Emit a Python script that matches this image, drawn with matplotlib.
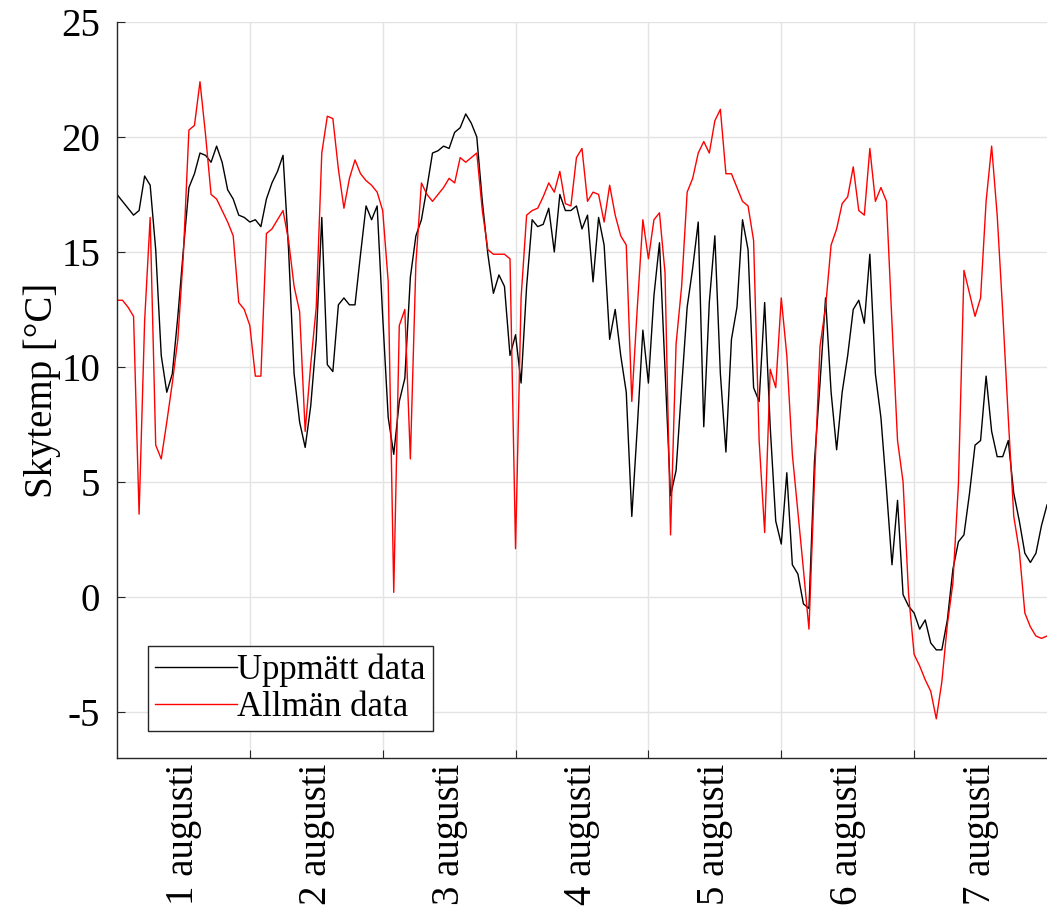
"""
Skytemp: uppmätt data mot allmän data, 1-7 augusti (timvärden).
"""
import matplotlib
matplotlib.use("Agg")
import matplotlib.pyplot as plt
import numpy as np

# Hours since 1 augusti 00:00
hours = np.arange(0, 169)

uppmatt = [
    17.5, 17.2, 16.9, 16.6, 16.8, 18.3, 17.9, 15.1, 10.5, 8.9, 9.7, 12.2,
    15.1, 17.8, 18.4, 19.3, 19.2, 18.9, 19.6, 18.9, 17.7, 17.3, 16.6, 16.5,
    16.3, 16.4, 16.1, 17.3, 18.0, 18.5, 19.2, 15.1, 9.7, 7.6, 6.5, 8.3,
    11.2, 16.5, 10.1, 9.8, 12.7, 13.0, 12.7, 12.7, 14.9, 17.0, 16.4, 17.0,
    12.2, 7.8, 6.2, 8.5, 9.5, 13.9, 15.7, 16.4, 17.8, 19.3, 19.4, 19.6,
    19.5, 20.2, 20.4, 21.0, 20.6, 20.0, 17.2, 14.9, 13.2, 14.0, 13.5, 10.5,
    11.4, 9.3, 13.5, 16.4, 16.1, 16.2, 16.9, 15.0, 17.5, 16.8, 16.8, 17.0,
    16.0, 16.6, 13.7, 16.5, 15.3, 11.2, 12.5, 10.5, 8.9, 3.5, 7.4, 11.6,
    9.3, 13.1, 15.4, 9.9, 4.4, 5.5, 9.1, 12.6, 14.3, 16.3, 7.4, 12.8,
    15.7, 9.7, 6.3, 11.2, 12.6, 16.4, 15.1, 9.1, 8.5, 12.8, 7.4, 3.3,
    2.3, 5.4, 1.4, 1.0, -0.3, -0.5, 5.9, 9.3, 13.0, 8.9, 6.4, 8.9,
    10.5, 12.5, 12.9, 11.9, 14.9, 9.7, 7.8, 4.7, 1.4, 4.2, 0.1, -0.4,
    -0.7, -1.4, -1.0, -2.0, -2.3, -2.3, -1.0, 1.2, 2.4, 2.7, 4.5, 6.6,
    6.8, 9.6, 7.2, 6.1, 6.1, 6.8, 4.5, 3.3, 1.9, 1.5, 1.9, 3.1,
    4.0,
]

allman = [
    12.9, 12.9, 12.6, 12.2, 3.6, 12.0, 16.5, 6.6, 6.0, 7.6, 9.3, 11.2,
    14.9, 20.3, 20.5, 22.4, 20.1, 17.5, 17.3, 16.8, 16.3, 15.7, 12.8, 12.5,
    11.8, 9.6, 9.6, 15.8, 16.0, 16.4, 16.8, 15.5, 13.5, 12.4, 7.2, 10.1,
    12.6, 19.3, 20.9, 20.8, 18.6, 16.9, 18.2, 19.0, 18.4, 18.1, 17.9, 17.6,
    16.8, 13.7, 0.2, 11.8, 12.5, 6.0, 14.5, 18.0, 17.5, 17.2, 17.5, 17.8,
    18.2, 18.0, 19.1, 18.9, 19.1, 19.3, 16.8, 15.1, 14.9, 14.9, 14.9, 14.7,
    2.1, 13.0, 16.6, 16.8, 16.9, 17.4, 18.0, 17.6, 18.5, 17.1, 17.0, 19.1,
    19.5, 17.2, 17.6, 17.5, 16.3, 17.9, 16.6, 15.7, 15.3, 8.5, 12.6, 16.4,
    14.7, 16.4, 16.7, 14.1, 2.7, 11.0, 13.5, 17.6, 18.2, 19.3, 19.8, 19.3,
    20.7, 21.2, 18.4, 18.4, 17.8, 17.2, 17.0, 15.5, 6.8, 2.8, 9.9, 9.1,
    13.0, 10.5, 6.2, 3.7, 1.2, -1.4, 5.1, 10.9, 12.6, 15.3, 16.0, 17.1,
    17.4, 18.7, 16.8, 16.6, 19.5, 17.2, 17.8, 17.2, 11.9, 6.8, 5.0, 0.1,
    -2.5, -3.0, -3.6, -4.1, -5.3, -3.7, -1.2, 0.6, 4.9, 14.2, 13.2, 12.2,
    13.0, 17.2, 19.6, 16.6, 12.4, 7.8, 3.5, 2.0, -0.7, -1.3, -1.7, -1.8,
    -1.7,
]

day_labels = ["1 augusti", "2 augusti", "3 augusti", "4 augusti",
              "5 augusti", "6 augusti", "7 augusti"]
y_ticks = [-5, 0, 5, 10, 15, 20, 25]

plt.rcParams["font.family"] = ["Liberation Serif", "DejaVu Serif"]
plt.rcParams["axes.unicode_minus"] = False

fig = plt.figure(figsize=(10.47, 9.06), dpi=100)
ax = fig.add_axes([0.1117, 0.1634, 0.8883, 0.8124])

ax.plot(hours, uppmatt, color="black", lw=1.0, label="Uppmätt data")
ax.plot(hours, allman, color="red", lw=1.0, label="Allmän data")

ax.set_xlim(0, 168)
ax.set_ylim(-7, 25)

# day boundaries: ticks + grid, labels at noon
ax.set_xticks(np.arange(24, 168, 24))
ax.set_xticklabels([])
ax.set_xticks(np.arange(12, 168, 24), minor=True)
ax.set_xticklabels(day_labels, minor=True, rotation=90, fontsize=28)
ax.tick_params(axis="x", which="minor", length=0, pad=4)
ax.tick_params(axis="x", which="major", direction="in", length=6,
               color="#262626")

ax.set_yticks(y_ticks)
ax.set_yticklabels([str(v) for v in y_ticks], fontsize=28)
ax.tick_params(axis="y", direction="in", length=6, color="#262626", pad=12)

ax.grid(True, which="major", color="#e3e3e3", lw=1.0)
ax.set_axisbelow(True)

for side in ("top", "right"):
    ax.spines[side].set_visible(False)
for side in ("left", "bottom"):
    ax.spines[side].set_color("#262626")
    ax.spines[side].set_linewidth(1.0)

ax.set_ylabel("Skytemp [°C]", fontsize=28, labelpad=0)

leg = ax.legend(loc="lower left", bbox_to_anchor=(0.033, 0.036), fontsize=25,
                fancybox=False, edgecolor="#262626", framealpha=1,
                handlelength=2.35, handletextpad=0.0, borderpad=0.22,
                labelspacing=0.12, borderaxespad=0)
leg.get_frame().set_linewidth(1.0)

fig.savefig("out.png", dpi=100)
